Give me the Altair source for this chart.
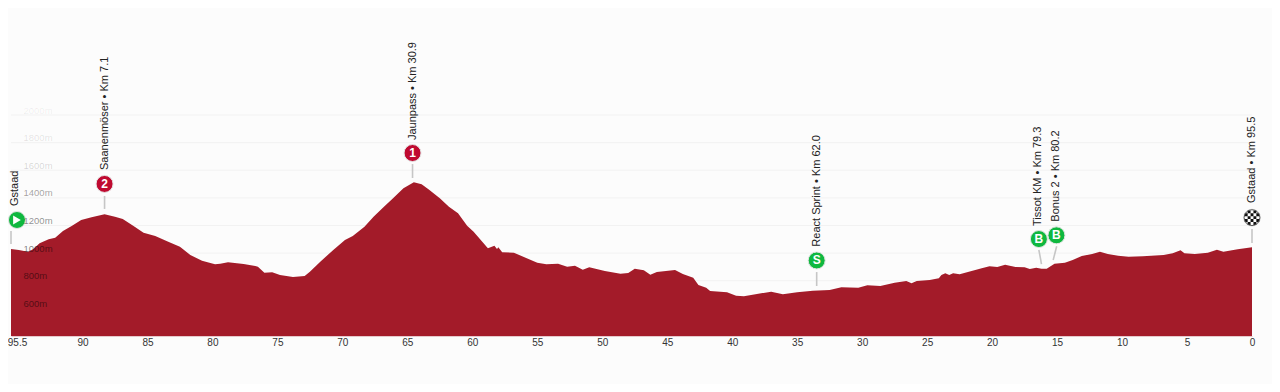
import altair as alt
import pandas as pd

km = [95.5,94.9,94.2,93.8,93.3,92.6,92.1,91.5,90.8,90.1,89.3,88.3,87.5,86.9,86.1,85.3,84.4,83.4,82.5,81.7,80.8,79.8,79.4,78.8,77.6,76.7,76.5,76.0,75.4,74.8,73.8,72.9,72.5,71.7,70.7,69.8,69.2,68.3,67.6,66.8,66.1,65.3,64.5,63.9,63.3,62.5,61.8,61.1,60.4,59.9,58.8,58.3,58.1,58.0,57.7,56.8,55.9,55.0,54.3,53.4,52.7,52.1,51.5,51.0,49.8,48.6,48.0,47.5,46.8,46.3,45.8,44.4,43.8,43.0,42.6,42.0,41.7,40.4,39.7,39.1,38.1,37.0,36.1,35.0,33.8,32.5,31.6,30.3,29.6,28.6,27.5,26.6,26.2,25.8,24.8,24.1,23.9,23.6,23.3,23.0,22.5,20.8,20.2,19.6,19.0,18.2,17.5,17.1,16.6,16.2,15.8,15.2,14.4,13.8,13.1,12.3,11.7,11.1,10.3,9.5,8.4,6.8,6.1,5.5,5.2,4.4,3.4,2.7,2.2,1.1,0]
elevation = [1030,1023,1010,1028,1071,1100,1112,1160,1199,1240,1260,1281,1264,1247,1199,1148,1124,1083,1047,987,945,919,924,934,921,907,902,858,861,842,827,834,866,938,1023,1095,1124,1191,1264,1336,1397,1469,1513,1498,1457,1397,1336,1288,1199,1155,1035,1054,1030,1042,1006,1003,967,931,919,924,902,909,880,897,871,851,856,887,876,844,863,878,849,822,769,750,726,716,692,687,704,721,702,716,728,733,753,750,767,762,786,798,782,798,805,818,842,854,842,854,847,890,905,900,916,900,897,885,895,887,887,924,931,950,979,994,1010,994,981,974,977,987,999,1021,999,994,1003,1025,1010,1028,1042]

labels = ["Gstaad","Saanenmöser • Km 7.1","Jaunpass • Km 30.9","React Sprint • Km 62.0","Tissot KM • Km 79.3","Bonus 2 • Km 80.2","Gstaad • Km 95.5"]
marker_km = [95.04,88.3,64.6,33.5,16.4,15.05,0]
marker_ele = [1240,1501,1725,947,1102,1129,1257]
label_km = [95.2,88.3,64.6,33.5,16.5,15.1,0]
label_ele = [1341,1602,1819,1047,1196,1228,1363]
line_km_top = [95.5,88.3,64.6,33.5,16.4,15.03,0]
line_km_bot = [95.5,88.3,64.6,33.5,16.2,15.3,0]
line_ele_top = [1160,1414,1645,863,1023,1050,1175]
line_ele_bot = [1066,1320,1544,762,921,950,1073]
kinds = ["start","climb","climb","sprint","bonus","bonus","finish"]
glyphs = ["","2","1","S","B","B",""]

x_ticks = [95.5,90,85,80,75,70,65,60,55,50,45,40,35,30,25,20,15,10,5,0]
y_ticks = [600,800,1000,1200,1400,1600,1800,2000]

AREA = "#a31b29"
GREEN = "#0fb83f"
RED = "#bf0a30"

profile = pd.DataFrame({"km": km, "ele": elevation, "base": [400] * len(km)})
grid = pd.DataFrame({"ele": y_ticks})
marks = pd.DataFrame({
    "label": labels, "km": marker_km, "ele": marker_ele,
    "lkm": label_km, "lele": label_ele,
    "k1": line_km_top, "k2": line_km_bot, "e1": line_ele_top, "e2": line_ele_bot,
    "kind": kinds, "glyph": glyphs,
})

xs = alt.Scale(domain=[95.5, 0], nice=False, zero=False)
ys = alt.Scale(domain=[400, 2775], nice=False, zero=False)

label_color = ("datum.value==2000?'rgba(0,0,0,0.07)':datum.value==1800?'rgba(0,0,0,0.11)':"
               "datum.value==1600?'rgba(0,0,0,0.16)':datum.value==1400?'rgba(0,0,0,0.38)':"
               "datum.value==1200?'rgba(0,0,0,0.45)':'rgba(0,0,0,0.5)'")

x_axis = alt.Axis(
    values=x_ticks, labelExpr="'' + datum.value", ticks=False, grid=False,
    domain=True, domainColor="#e6c9cc", domainWidth=1,
    labelFontSize=10, labelColor="#333", labelFont="Liberation Sans",
    labelPadding=1, labelOverlap=False, labelFlush=False, title=None,
    labelOffset=alt.expr("datum.value==95.5?6:0"))
y_axis = alt.Axis(
    values=y_ticks, labelExpr="datum.value + 'm'", ticks=False, domain=False,
    grid=False, zindex=1, title=None,
    labelAlign="left", labelPadding=-12, labelOffset=-5,
    labelFontSize=9.5, labelFont="Liberation Sans",
    labelColor=alt.expr(label_color))

X = lambda f: alt.X(f, scale=xs, axis=x_axis)
Y = lambda f: alt.Y(f, scale=ys, axis=y_axis)

gridlines = alt.Chart(grid).mark_rule(color="#f2f2f2", strokeWidth=1).encode(y=Y("ele:Q"))

area = alt.Chart(profile).mark_area(color=AREA, opacity=1).encode(
    x=X("km:Q"), y=Y("ele:Q"), y2="base:Q")

rules = alt.Chart(marks).mark_rule(color="#c6c6c6", strokeWidth=1.6).encode(
    x=X("k1:Q"), x2="k2:Q", y=Y("e1:Q"), y2="e2:Q")

color = alt.Color("kind:N", legend=None, scale=alt.Scale(
    domain=["start", "climb", "sprint", "bonus", "finish"],
    range=[GREEN, RED, GREEN, GREEN, "#ffffff"]))
discs = alt.Chart(marks).mark_point(filled=True, shape="circle", size=289, opacity=1,
                                    stroke="#e4e4e4", strokeWidth=1).encode(
    x=X("km:Q"), y=Y("ele:Q"), fill=color)

glyph_text = alt.Chart(marks[marks.glyph != ""]).mark_text(
    color="#fff", fontWeight="bold", font="Liberation Sans", fontSize=12,
    align="center", baseline="middle").encode(x=X("km:Q"), y=Y("ele:Q"), text="glyph:N")

play = alt.Chart(marks[marks.kind == "start"]).mark_point(
    filled=True, shape="triangle-right", size=80, color="#fff", opacity=1
).encode(x=X("km:Q"), y=Y("ele:Q"))

cells = {0: (1, 3), 1: (0, 2, 4), 2: (1, 3), 3: (0, 2, 4), 4: (1, 3)}
check_path = "".join(
    f"M{-1 + i * .4:.1f} {-1 + r * .4:.1f}h.4v.4h-.4z" for r, cs in cells.items() for i in cs)
check = alt.Chart(marks[marks.kind == "finish"]).mark_point(
    filled=True, shape=check_path, size=210, color="#111", opacity=1
).encode(x=X("km:Q"), y=Y("ele:Q"))
ring = alt.Chart(marks[marks.kind == "finish"]).mark_point(
    shape="circle", size=250, color="#555", strokeWidth=1, opacity=1, filled=False
).encode(x=X("km:Q"), y=Y("ele:Q"))

text = alt.Chart(marks).mark_text(
    angle=270, align="left", baseline="middle", font="Liberation Sans",
    fontSize=11, color="#222").encode(x=X("lkm:Q"), y=Y("lele:Q"), text="label:N")

chart = alt.layer(gridlines, area, rules, discs, glyph_text, play, check, ring, text).properties(
    width=1241, height=328,
    background="#fcfcfc",
    autosize=alt.AutoSizeParams(type="none"),
    padding={"left": 3, "top": 0, "right": 20, "bottom": 48},
).configure_view(stroke=None)

chart.save("out.html", embed_options={"renderer": "svg", "actions": False})
